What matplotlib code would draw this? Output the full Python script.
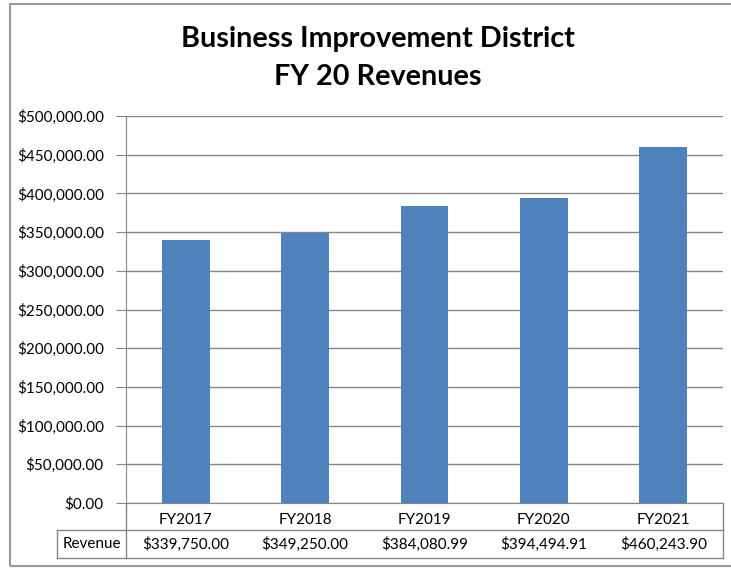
import matplotlib
matplotlib.use("Agg")
import matplotlib.pyplot as plt
from matplotlib.patches import Rectangle
from matplotlib.lines import Line2D
from matplotlib.ticker import FuncFormatter

categories = ["FY2017", "FY2018", "FY2019", "FY2020", "FY2021"]
revenue = [339750.00, 349250.00, 384080.99, 394494.91, 460243.90]
series_name = "Revenue"
title_lines = ["Business Improvement District", "FY 20 Revenues"]

plt.rcParams['font.family'] = ['Lato', 'DejaVu Sans']

W, H = 731, 568
fig = plt.figure(figsize=(W / 100, H / 100), dpi=100)

# outer chart border
fig.patches.append(Rectangle((9.5 / W, 1 - 566 / H), 1.0, (566 - 4) / H,
                             transform=fig.transFigure, fill=False,
                             edgecolor='#9a9a9a', linewidth=1.5))

L, R, T, B = 126, 723, 116, 503
ax = fig.add_axes([L / W, 1 - B / H, (R - L) / W, (B - T) / H])

FS = 11
x = list(range(len(categories)))
ax.bar(x, revenue, width=0.4, color='#4F81BD', zorder=3)
ax.set_xlim(-0.5, len(categories) - 0.5)
ax.set_ylim(0, 500000)
ax.set_yticks([i * 50000 for i in range(11)])
ax.yaxis.set_major_formatter(FuncFormatter(lambda v, p: "${:,.2f}".format(v)))
ax.grid(axis='y', color='#868686', linewidth=1, zorder=0)
ax.set_axisbelow(True)
for s in ['top', 'right']:
    ax.spines[s].set_visible(False)
ax.spines['left'].set_color('#868686')
ax.spines['bottom'].set_color('#868686')
ax.tick_params(axis='y', length=7, color='#868686', labelsize=FS, pad=9)
ax.set_xticks(x)
ax.set_xticklabels(categories, fontsize=FS)
ax.tick_params(axis='x', length=0, pad=7)

# data table (revenue row)
row2_top = -(530 - B) / (B - T)
row2_bot = -(558 - B) / (B - T)
tc = ax.get_xaxis_transform()
for xi, v in zip(x, revenue):
    ax.text(xi, (row2_top + row2_bot) / 2, "${:,.2f}".format(v), transform=tc,
            ha='center', va='center', fontsize=FS)

ta = ax.transAxes
lab_left = (57 - L) / (R - L)
ax.text(lab_left / 2, (row2_top + row2_bot) / 2, series_name,
        transform=ta, ha='center', va='center', fontsize=FS)

lc = '#868686'
lines = [
    ([lab_left, 1], [row2_top, row2_top]),
    ([lab_left, 1], [row2_bot, row2_bot]),
    ([lab_left, lab_left], [row2_top, row2_bot]),
    ([0, 0], [0, row2_bot]),
    ([1, 1], [0, row2_bot]),
]
for xs, ys in lines:
    ax.add_line(Line2D(xs, ys, transform=ta, color=lc, linewidth=1, clip_on=False))

fig.text(378 / W, 1 - 47 / H, title_lines[0], ha='center', va='baseline',
         fontsize=20.7, fontweight='bold')
fig.text(378 / W, 1 - 85 / H, title_lines[1], ha='center', va='baseline',
         fontsize=20.7, fontweight='bold')

fig.savefig("out.png", dpi=100)
